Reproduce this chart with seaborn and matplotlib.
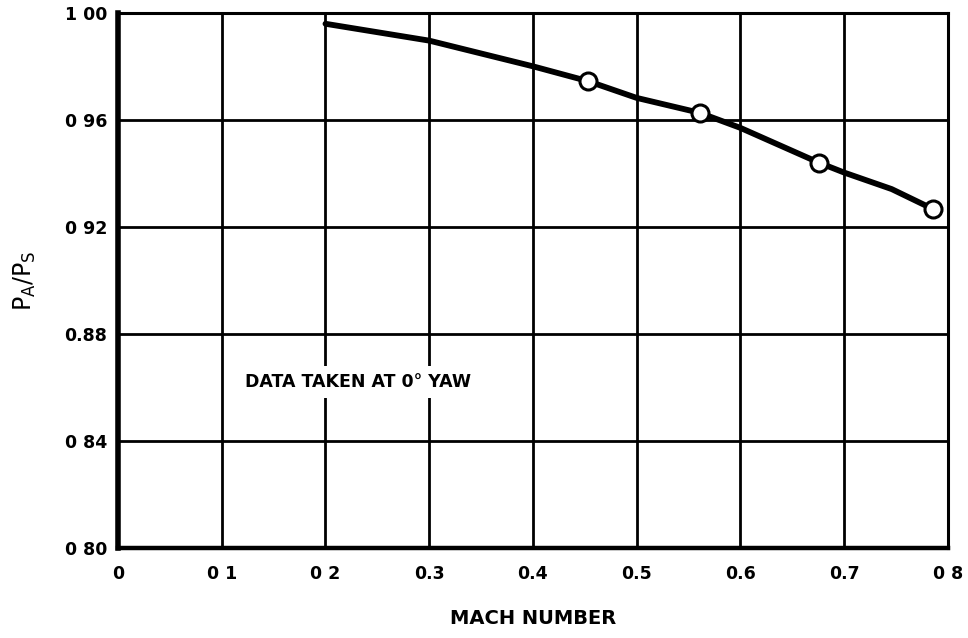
import matplotlib
matplotlib.use("Agg")
import matplotlib.pyplot as plt
import seaborn as sns
import pandas as pd

# Pressure ratio curve vs Mach number
curve_mach = [0.20, 0.30, 0.40, 0.4536, 0.50, 0.561, 0.60, 0.6757, 0.70, 0.746, 0.786]
curve_ratio = [0.996, 0.9897, 0.9801, 0.9745, 0.9683, 0.9627, 0.9571, 0.9441, 0.9404, 0.9342, 0.9267]

# Measured points
point_mach = [0.4536, 0.561, 0.6757, 0.786]
point_ratio = [0.9745, 0.9627, 0.9441, 0.9267]

x_ticks = [0.0, 0.1, 0.2, 0.3, 0.4, 0.5, 0.6, 0.7, 0.8]
x_tick_labels = ["0", "0 1", "0 2", "0.3", "0.4", "0.5", "0.6", "0.7", "0 8"]
y_ticks = [0.80, 0.84, 0.88, 0.92, 0.96, 1.00]
y_tick_labels = ["0 80", "0 84", "0.88", "0 92", "0 96", "1 00"]

sns.set_style("white")
plt.rcParams["font.family"] = ["DejaVu Sans"]
plt.rcParams["mathtext.fontset"] = "dejavusans"
plt.rcParams["mathtext.default"] = "regular"
for key in ("text.color", "axes.labelcolor", "xtick.color", "ytick.color"):
    plt.rcParams[key] = "black"

curve_df = pd.DataFrame({"mach": curve_mach, "ratio": curve_ratio})
point_df = pd.DataFrame({"mach": point_mach, "ratio": point_ratio})

fig = plt.figure(figsize=(9.68, 6.38), dpi=100)
ax = fig.add_axes([0.122, 0.141, 0.857, 0.8385])

sns.lineplot(data=curve_df, x="mach", y="ratio", ax=ax, color="black",
             linewidth=4.2, zorder=3)
sns.scatterplot(data=point_df, x="mach", y="ratio", ax=ax, s=150,
                facecolor="white", edgecolor="black", linewidth=2.2, zorder=4)

ax.set_xlim(0, 0.8)
ax.set_ylim(0.80, 1.00)
ax.set_xticks(x_ticks)
ax.set_xticklabels(x_tick_labels, fontsize=12.5, fontweight="bold")
ax.set_yticks(y_ticks)
ax.set_yticklabels(y_tick_labels, fontsize=12.5, fontweight="bold")
ax.tick_params(axis="x", length=0, pad=12)
ax.tick_params(axis="y", length=0, pad=8)

for x in x_ticks[1:-1]:
    ax.axvline(x, color="black", linewidth=2.0, zorder=1)
for y in y_ticks[1:-1]:
    ax.axhline(y, color="black", linewidth=2.0, zorder=1)

for side, spine in ax.spines.items():
    spine.set_visible(True)
    spine.set_color("black")
    spine.set_linewidth(2.2)
ax.spines["left"].set_linewidth(4.0)
ax.spines["bottom"].set_linewidth(3.2)

ax.set_xlabel("MACH NUMBER", fontsize=14, fontweight="bold")
ax.xaxis.label.set_va("center")
ax.xaxis.set_label_coords(0.5, -0.131)
ax.set_ylabel("$P_A/P_S$", fontsize=17)
ax.yaxis.label.set_va("center")
ax.yaxis.set_label_coords(-0.112, 0.5)

ax.text(0.122, 0.862, "DATA TAKEN AT 0° YAW", fontsize=12.5,
        fontweight="bold", ha="left", va="center", zorder=2,
        bbox=dict(facecolor="white", edgecolor="none", pad=5))

fig.savefig("out.png", dpi=100)
